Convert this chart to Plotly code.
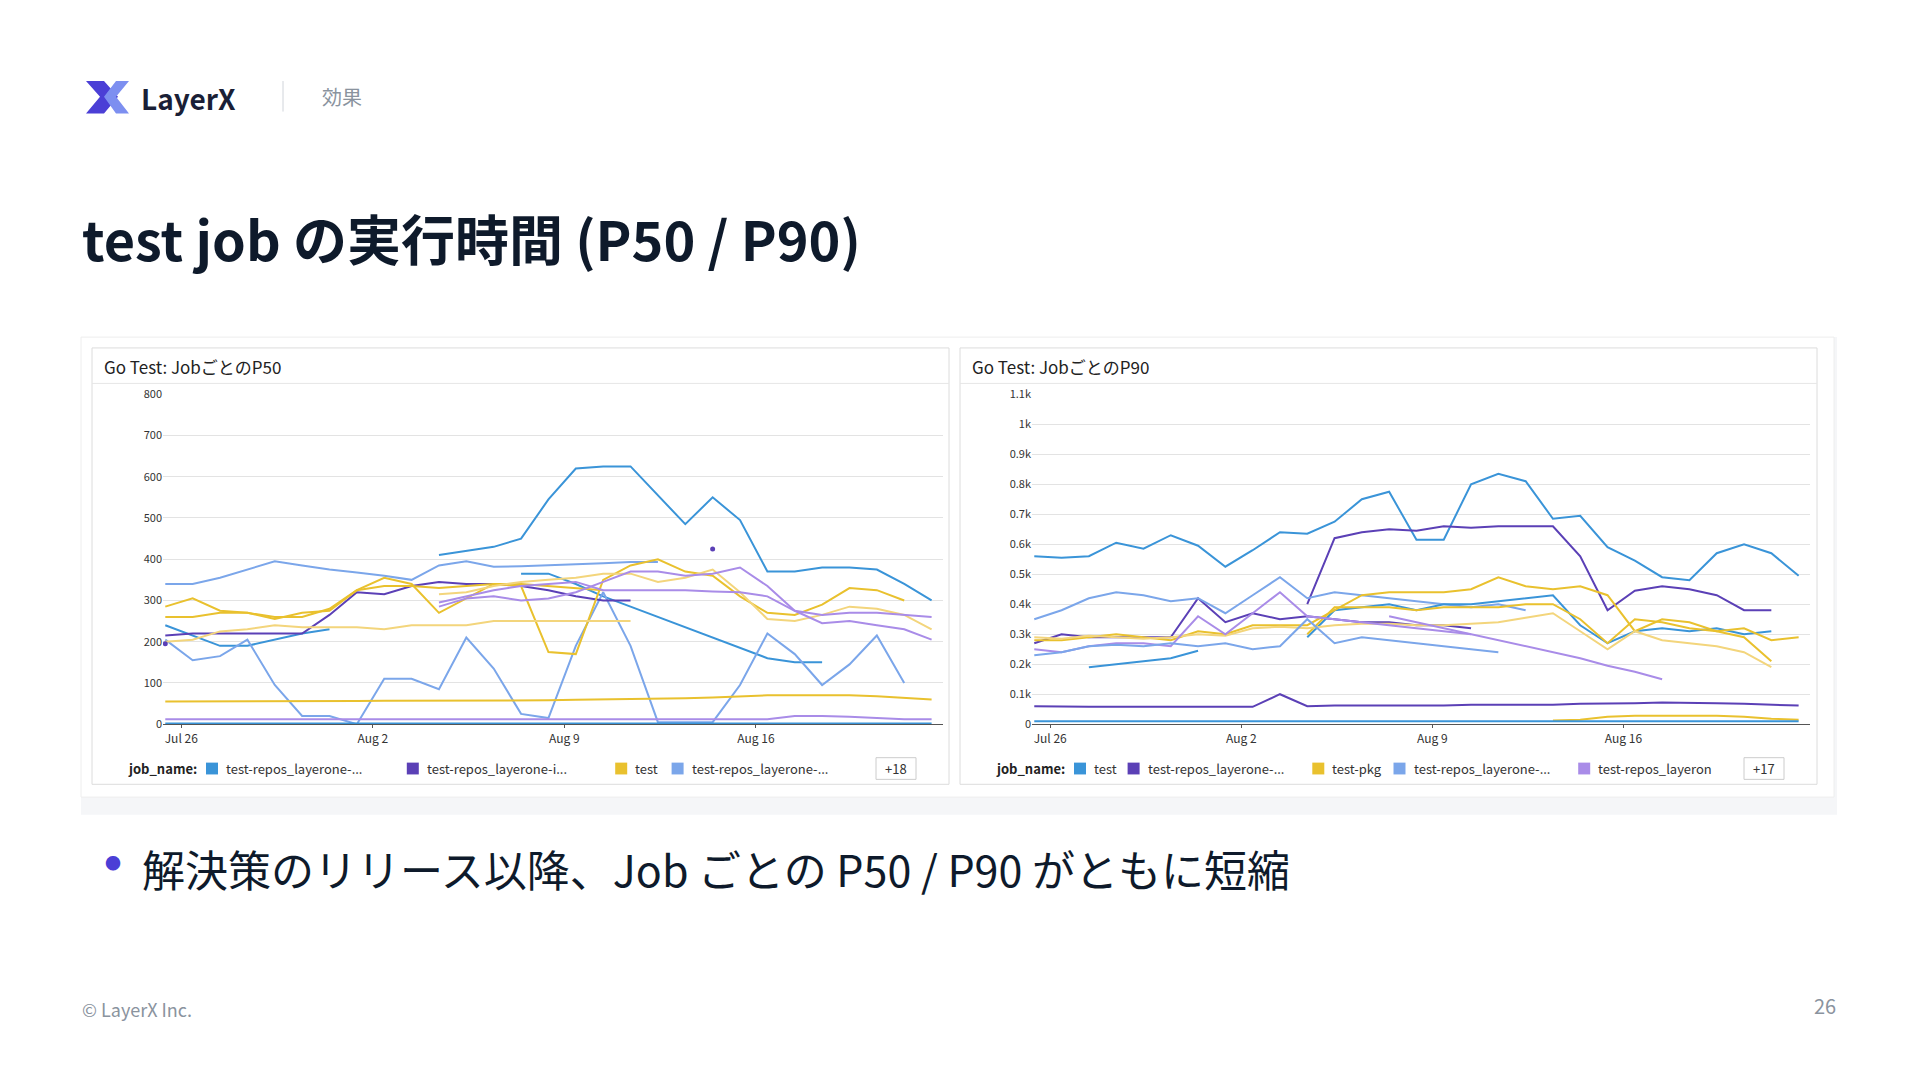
import datetime as dt
import plotly.graph_objects as go

# page body has an 8px margin, so the figure is drawn a bit smaller and coordinates are shifted
W, H = 1904, 1064
OFF = 8
FONT = "Noto Sans CJK JP"

# daily samples, ~10:00 each day from Jul 25
base = dt.datetime(2023, 7, 25, 10)
days = [base + dt.timedelta(days=i) for i in range(29)]
N = None

# ---- P50 series (seconds) ----
p50_series = [
    ("#3a94d8", [N]*10 + [410, 420, 430, 450, 545, 620, 625, 625, 555, 485, 550, 495, 370, 370, 380, 380, 375, 340, 300]),
    ("#3a94d8", [N]*13 + [365, 365, 340, 310, 285, 260, 235, 210, 185, 160, 150, 150, N, N, N, N]),
    ("#3a94d8", [240, 215, 190, 190, 205, 220, 230] + [N]*22),
    ("#7ba6ea", [340, 340, 355, 375, 395, 385, 375, 368, 360, 350, 385, 395, 382, 383, 385, 388, 390, 393, 393] + [N]*10),
    ("#7ba6ea", [205, 155, 165, 205, 95, 20, 20, 0, 110, 110, 85, 210, 135, 25, 15, 190, 320, 190, 5, 5, 5, 95, 220, 170, 95, 145, 215, 100, N]),
    ("#5b40b6", [215, 220, 220, 220, 220, 220, 265, 320, 315, 335, 345, 340, 340, 335, 325, 310, 300, 300] + [N]*11),
    ("#e9c12e", [285, 305, 275, 270, 260, 260, 280, 325, 355, 340, 270, 305, 340, 335, 175, 170, 350, 385, 400, 370, 360, 310, 270, 265, 290, 330, 325, 300, N]),
    ("#e9c12e", [260, 260, 270, 270, 255, 270, 275, 325, 335, 335, 330, 335, 340, 340, 335, 330, 325] + [N]*12),
    ("#f3d57c", [200, 205, 225, 230, 240, 235, 235, 235, 230, 240, 240, 240, 250, 250, 250, 250, 250, 250] + [N]*11),
    ("#e9c12e", [55, 55, 55, 55, 56, 56, 56, 56, 57, 57, 57, 58, 58, 58, 58, 59, 60, 60, 62, 63, 65, 68, 70, 70, 70, 70, 68, 64, 60]),
    ("#f3d57c", [N]*10 + [315, 320, 335, 345, 350, 355, 365, 365, 345, 355, 375, 320, 255, 250, 265, 285, 280, 265, 230]),
    ("#a98ce8", [N]*10 + [285, 305, 310, 300, 305, 320, 345, 370, 370, 360, 365, 380, 335, 275, 265, 270, 270, 265, 260]),
    ("#a98ce8", [N]*10 + [295, 310, 325, 335, 340, 345, 325, 325, 325, 325, 322, 320, 310, 275, 245, 250, 240, 230, 205]),
    ("#a98ce8", [12]*23 + [20, 20, 18, 15, 12, 12]),
    ("#3a94d8", [2]*29),
]
p50_dots = [("#5b40b6", 0, 195), ("#5b40b6", 20, 425)]

# ---- P90 series ----
p90_series = [
    ("#3a94d8", [560, 555, 560, 605, 585, 630, 595, 525, 580, 640, 635, 675, 750, 775, 615, 615, 800, 835, 810, 685, 695, 590, 545, 490, 480, 570, 600, 570, 495]),
    ("#5b40b6", [N]*10 + [400, 620, 640, 650, 645, 660, 655, 660, 660, 660, 560, 380, 445, 460, 450, 430, 380, 380, N]),
    ("#5b40b6", [270, 300, 290, 290, 290, 290, 420, 340, 370, 350, 360, 350, 340, 340, 330, 330, 320] + [N]*12),
    ("#5b40b6", [60, 58, 58, 58, 58, 58, 58, 58, 58, 100, 60, 62, 62, 62, 60, 62, 65, 65, 65, 65, 68, 68, 70, 72, 72, 70, 68, 65, 62]),
    ("#7ba6ea", [350, 380, 420, 440, 430, 410, 420, 370, 430, 490, 420, 440, 430, 420, 410, 400, 390, 400, 380] + [N]*10),
    ("#3a94d8", [N]*10 + [290, 380, 390, 400, 380, 400, 400, 410, 420, 430, 330, 270, 310, 320, 310, 320, 300, 310, N]),
    ("#3a94d8", [N, N, 190, 200, 210, 220, 245] + [N]*22),
    ("#e9c12e", [280, 280, 290, 300, 290, 280, 310, 300, 330, 330, 330, 380, 430, 440, 440, 440, 450, 490, 460, 450, 460, 430, 310, 350, 340, 310, 320, 280, 290]),
    ("#e9c12e", [N]*10 + [300, 390, 390, 390, 380, 390, 390, 390, 400, 400, 350, 270, 350, 340, 320, 310, 290, 210, N]),
    ("#f3d57c", [290, 285, 295, 290, 285, 290, 300, 295, 320, 325, 320, 330, 335, 335, 330, 330, 335, 340, 355, 370, 310, 250, 310, 280, 270, 260, 240, 190, N]),
    ("#a98ce8", [250, 240, 260, 270, 270, 260, 360, 300, 370, 440, 360, 350, 340, 330, 320, 310, 300] + [N]*12),
    ("#a98ce8", [N]*13 + [360, 340, 320, 300, 280, 260, 240, 220, 195, 175, 150] + [N]*5),
    ("#7ba6ea", [230, 240, 260, 265, 260, 270, 260, 270, 250, 260, 350, 270, 290, 280, 270, 260, 250, 240] + [N]*11),
    ("#e9c12e", [N]*19 + [12, 15, 25, 28, 28, 28, 28, 25, 18, 15]),
    ("#3a94d8", [10]*29),
]

xticks = [dt.datetime(2023, 7, 26), dt.datetime(2023, 8, 2), dt.datetime(2023, 8, 9), dt.datetime(2023, 8, 16)]
xticktext = ["Jul 26", "Aug 2", "Aug 9", "Aug 16"]
p50_ticks = [0, 100, 200, 300, 400, 500, 600, 700, 800]
p90_ticks = [0, 100, 200, 300, 400, 500, 600, 700, 800, 900, 1000, 1100]
p90_ticktext = ["0", "0.1k", "0.2k", "0.3k", "0.4k", "0.5k", "0.6k", "0.7k", "0.8k", "0.9k", "1k", "1.1k"]

p50_legend = [("#3a94d8", "test-repos_layerone-..."), ("#5b40b6", "test-repos_layerone-i..."),
              ("#e9c12e", "test"), ("#7ba6ea", "test-repos_layerone-...")]
p90_legend = [("#3a94d8", "test"), ("#5b40b6", "test-repos_layerone-..."), ("#e9c12e", "test-pkg"),
              ("#7ba6ea", "test-repos_layerone-..."), ("#a98ce8", "test-repos_layeron")]


def px(x):
    return (x - OFF) / W


def py(y):
    return 1 - (y - OFF) / H


fig = go.Figure()
for color, vals in p50_series:
    fig.add_trace(go.Scatter(x=days, y=vals, mode="lines", line=dict(color=color, width=2),
                             xaxis="x", yaxis="y", showlegend=False))
for color, i, v in p50_dots:
    fig.add_trace(go.Scatter(x=[days[i]], y=[v], mode="markers", marker=dict(color=color, size=5),
                             xaxis="x", yaxis="y", showlegend=False))
for color, vals in p90_series:
    fig.add_trace(go.Scatter(x=days, y=vals, mode="lines", line=dict(color=color, width=2),
                             xaxis="x2", yaxis="y2", showlegend=False))

xrange = [dt.datetime(2023, 7, 25, 8), dt.datetime(2023, 8, 22, 20)]
axx = dict(range=xrange, tickvals=xticks, ticktext=xticktext, showgrid=False, showline=True,
           linecolor="#555", ticks="outside", ticklen=3, tickcolor="#555",
           tickfont=dict(size=12, color="#333", family=FONT))
axy = dict(showgrid=True, gridcolor="#e3e3e3", zeroline=False, ticks="",
           tickfont=dict(size=11, color="#333", family=FONT))
fig.update_layout(
    width=W, height=H, margin=dict(l=0, r=0, t=0, b=0),
    paper_bgcolor="white", plot_bgcolor="white",
    xaxis=dict(axx, domain=[px(163), px(943)], anchor="y"),
    yaxis=dict(axy, domain=[py(726), py(391)], range=[0, 800], tickvals=p50_ticks, anchor="x"),
    xaxis2=dict(axx, domain=[px(1032), px(1810)], anchor="y2"),
    yaxis2=dict(axy, domain=[py(726), py(391)], range=[0, 1100], tickvals=p90_ticks,
                ticktext=p90_ticktext, anchor="x2"),
)

shapes = []
ann = []


def rect(x0, y0, x1, y1, **kw):
    shapes.append(dict(type="rect", xref="paper", yref="paper", x0=px(x0), x1=px(x1),
                       y0=py(y1), y1=py(y0), layer="below", **kw))


def text(x, y, s, size, color, xanchor="left", bold=False):
    ann.append(dict(xref="paper", yref="paper", x=px(x), y=py(y), text=f"<b>{s}</b>" if bold else s,
                    showarrow=False, xanchor=xanchor, yanchor="middle",
                    font=dict(size=size, color=color, family=FONT)))


# outer grey container and cards
rect(81, 333, 1837, 818, fillcolor="#f5f6f8", line=dict(width=0))
rect(81, 333, 1834, 800, fillcolor="white", line=dict(color="#eeeeee", width=1))
for x0, title in [(92, "Go Test: JobごとのP50"), (960, "Go Test: JobごとのP90")]:
    rect(x0, 344, x0 + 857, 787, fillcolor="white", line=dict(color="#dcdcdc", width=1))
    shapes.append(dict(type="line", xref="paper", yref="paper", x0=px(x0), x1=px(x0 + 857),
                       y0=py(380), y1=py(380), line=dict(color="#e6e6e6", width=1)))
    text(x0 + 10, 363, title, 17, "#222")

# legends
for x0, items, more, step in [(126, p50_legend, "+18", 7.6), (994, p90_legend, "+17", 6.9)]:
    text(x0, 771, "job_name:", 13, "#222", bold=True)
    x = x0 + 80
    for color, name in items:
        rect(x, 765, x + 12, 777, fillcolor=color, line=dict(width=0))
        text(x + 18, 771, name, 13, "#333")
        x += 26 + len(name) * step
    xm = x0 + 750
    rect(xm, 760, xm + 40, 782, fillcolor="white", line=dict(color="#cccccc", width=1))
    text(xm + 20, 771, more, 13, "#333", xanchor="center")

# header logo
shapes.append(dict(type="path", xref="paper", yref="paper", fillcolor="#4b3fd6", line=dict(width=0),
                   path=f"M {px(86)},{py(73)} L {px(104)},{py(73)} L {px(118)},{py(89)} L {px(104)},{py(106)} "
                        f"L {px(86)},{py(106)} L {px(100)},{py(89)} Z"))
shapes.append(dict(type="path", xref="paper", yref="paper", fillcolor="#7d8ff0", line=dict(width=0),
                   path=f"M {px(104)},{py(89)} L {px(116)},{py(73)} L {px(129)},{py(73)} L {px(116)},{py(89)} "
                        f"L {px(129)},{py(106)} L {px(116)},{py(106)} Z"))
text(139, 90, "LayerX", 28, "#1a1f36", bold=True)
shapes.append(dict(type="line", xref="paper", yref="paper", x0=px(283), x1=px(283), y0=py(73), y1=py(104),
                   line=dict(color="#d0d4da", width=1)))
text(320, 89, "効果", 20, "#8a939e")

text(80, 232, "test job の実行時間 (P50 / P90)", 54, "#0e1a2b", bold=True)
text(103, 866, "●", 16, "#4b3fd6")
text(140, 872, "解決策のリリース以降、Job ごとの P50 / P90 がともに短縮", 43, "#0e1a2b")
text(80, 1015, "© LayerX Inc.", 18, "#8a939e")
text(1838, 1012, "26", 20, "#8a939e", xanchor="right")

fig.update_layout(shapes=shapes, annotations=ann)
fig.write_html("out.html")
